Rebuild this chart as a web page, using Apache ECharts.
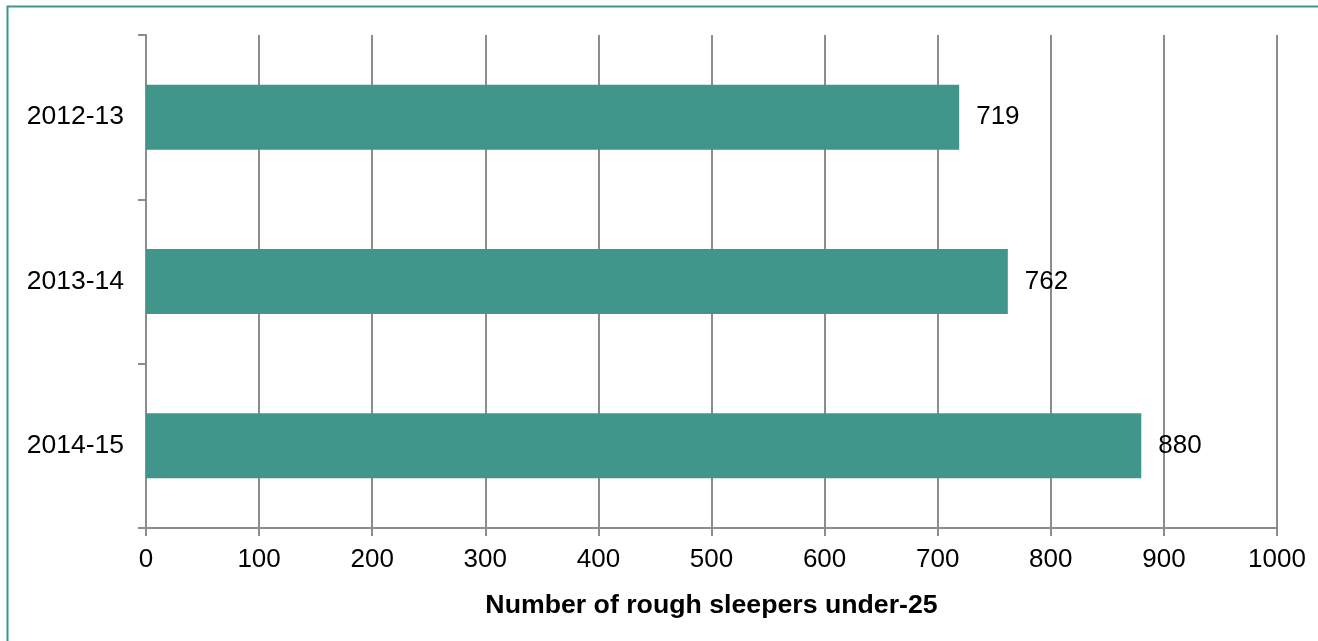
<!DOCTYPE html>
<html>
<head>
<meta charset="utf-8">
<script src="https://cdn.jsdelivr.net/npm/echarts@6/dist/echarts.min.js"></script>
<style>
html, body { margin: 0; padding: 0; background: #fff; }
#main { width: 1318px; height: 641px; }
</style>
</head>
<body>
<div id="main"></div>
<script>
// 数据
var years = ['2012-13', '2013-14', '2014-15'];
var sleepers = [719, 762, 880];
var xTicks = [0, 100, 200, 300, 400, 500, 600, 700, 800, 900, 1000];

var chart = echarts.init(document.getElementById('main'));
var gray = '#8c8c8c';
chart.setOption({
    animation: false,
    textStyle: { fontFamily: 'Liberation Sans, Arial, sans-serif' },
    graphic: [{
        type: 'rect',
        shape: { x: 7.5, y: 6.5, width: 1400, height: 700 },
        style: { fill: 'none', stroke: '#3f9589', lineWidth: 2 },
        silent: true
    }],
    grid: { left: 146, right: 41, top: 35, bottom: 113 },
    xAxis: {
        type: 'value',
        min: xTicks[0],
        max: xTicks[xTicks.length - 1],
        interval: 100,
        name: 'Number of rough sleepers under-25',
        nameLocation: 'middle',
        nameGap: 64,
        nameTextStyle: { fontSize: 26.7, fontWeight: 'bold', color: '#000' },
        axisLine: { show: true, lineStyle: { color: gray, width: 2 } },
        axisTick: { show: true, length: 8, lineStyle: { color: gray, width: 2 } },
        axisLabel: { fontSize: 26, color: '#000', margin: 19, formatter: function (v) { return String(v); } },
        splitLine: { show: true, lineStyle: { color: gray, width: 2 } }
    },
    yAxis: {
        type: 'category',
        data: years,
        inverse: true,
        axisLine: { show: true, lineStyle: { color: gray, width: 2 } },
        axisTick: { show: true, length: 8, lineStyle: { color: gray, width: 2 } },
        axisLabel: { fontSize: 26.5, color: '#000', margin: 22 },
        splitLine: { show: false }
    },
    series: [{
        type: 'bar',
        data: sleepers,
        barWidth: 65,
        itemStyle: { color: '#40968a' },
        label: {
            show: true,
            position: 'right',
            distance: 17,
            fontSize: 26,
            color: '#000'
        }
    }]
});
</script>
</body>
</html>
